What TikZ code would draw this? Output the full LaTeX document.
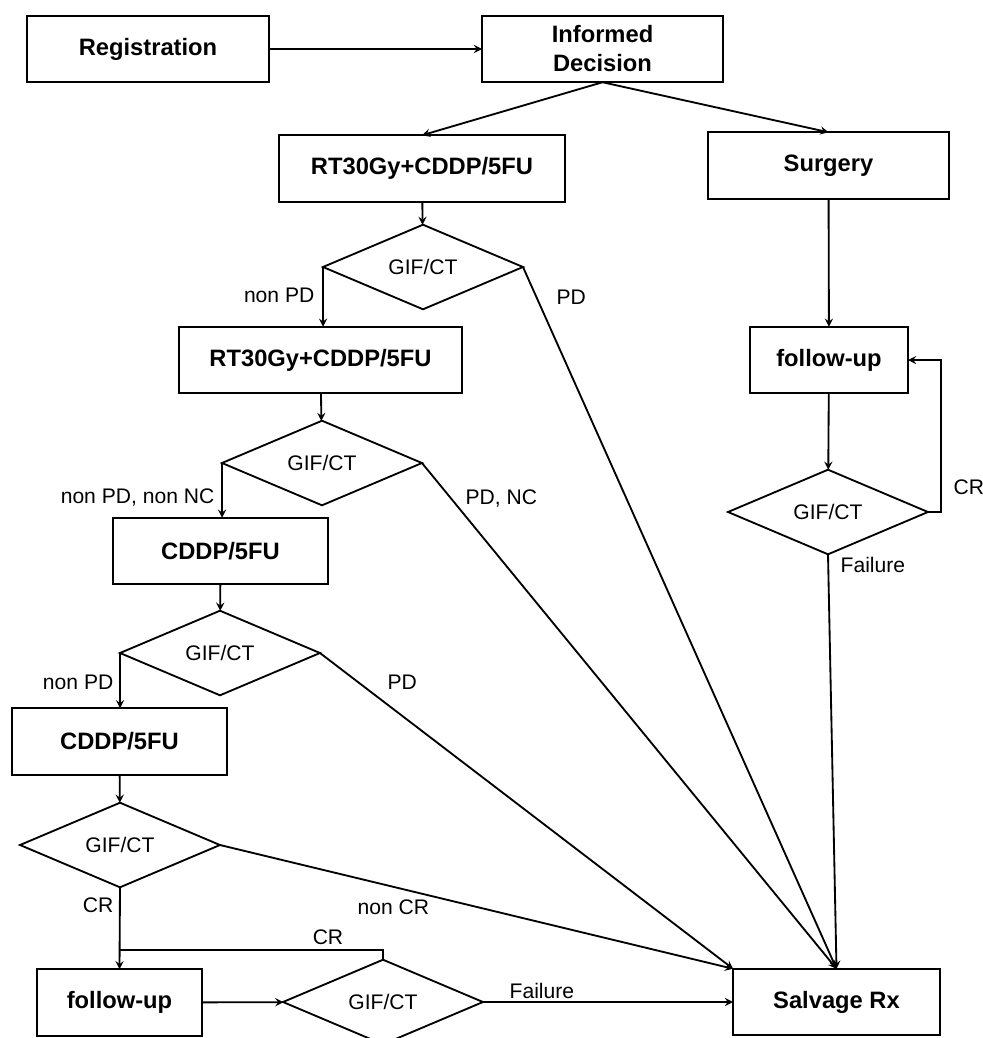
\documentclass[tikz,border=0pt]{standalone}
\usepackage{fontspec}
\setmainfont{Liberation Sans}
\usepackage{tikz}
\usetikzlibrary{shapes,arrows}

\tikzset{
  block/.style={draw, rectangle, minimum height=1.33cm, inner sep=2pt, outer sep=0pt,
    font=\fontsize{13.5}{16.5}\selectfont\bfseries, align=center},
  decision/.style={draw, diamond, minimum width=4cm, minimum height=1.64cm,
    inner sep=0pt, outer sep=0pt, font=\fontsize{12}{14}\selectfont},
  lbl/.style={font=\fontsize{12}{14}\selectfont, inner sep=1pt}
}

\begin{document}
\begin{tikzpicture}[x=0.02cm,y=-0.02cm,>=stealth,line width=1.05pt]
      \useasboundingbox (0,0) rectangle (983,1038);

      % top row
      \node[block, minimum width=4.84cm] (reg) at (148,49) {Registration};
      \node[block, minimum width=4.82cm] (inf) at (602.5,49) {Informed\\Decision};

      % left column
      \node[block, minimum width=5.72cm] (rtA) at (422,168.5) {RT30Gy+CDDP/5FU};
      \node[decision] (gifA) at (423,267) {GIF/CT};
      \node[block, minimum width=5.66cm] (rtB) at (320.5,360) {RT30Gy+CDDP/5FU};
      \node[decision] (gifB) at (322,463) {GIF/CT};
      \node[block, minimum width=4.3cm] (cdA) at (220.5,551) {CDDP/5FU};
      \node[decision] (gifC) at (220,653) {GIF/CT};
      \node[block, minimum width=4.3cm] (cdB) at (119.5,741.5) {CDDP/5FU};
      \node[decision] (gifD) at (120,845) {GIF/CT};
      \node[block, minimum width=3.3cm] (fuA) at (119.5,1002.5) {follow-up};
      \node[decision, minimum height=1.6cm] (gifE) at (383,1002) {GIF/CT};

      % right column
      \node[block, minimum width=4.82cm] (surg) at (828.5,165.5) {Surgery};
      \node[block, minimum width=3.16cm] (fuB) at (829,360) {follow-up};
      \node[decision, minimum height=1.66cm] (gifF) at (828,512) {GIF/CT};
      \node[block, minimum width=4.14cm] (salv) at (836.5,1002) {Salvage Rx};

      \coordinate (crjoin) at (120,950);

      % main flow
      \draw[->] (reg) -- (inf);
      \draw[->] (inf.south) -- (rtA.north);
      \draw[->] (inf.south) -- (surg.north);
      \draw[->] (rtA) -- (gifA);
      \draw[->] (gifA.west) -- (gifA.west |- rtB.north);
      \draw[->] (rtB) -- (gifB);
      \draw[->] (gifB.west) -- (gifB.west |- cdA.north);
      \draw[->] (cdA) -- (gifC);
      \draw[->] (gifC.west) -- (gifC.west |- cdB.north);
      \draw[->] (cdB) -- (gifD);
      \draw[->] (gifD.south) -- (fuA.north);
      \draw[->] (fuA) -- (gifE);
      \draw (gifE.north) |- (crjoin);
      \draw[->] (gifE.east) -- (salv.west);

      % surgery arm
      \draw[->] (surg) -- (fuB);
      \draw[->] (fuB) -- (gifF);
      \draw[->] (gifF.east) -- ++(13,0) |- (fuB.east);
      \draw[->] (gifF.south) -- (salv.north);

      % to salvage
      \draw[->] (gifA.east) -- (salv.north);
      \draw[->] (gifB.east) -- (salv.north);
      \draw[->] (gifC.east) -- (salv.north west);
      \draw[->] (gifD.east) -- (salv.north west);

      % branch labels
      \node[lbl, anchor=east] (lnpA) at (317,295) {non PD};
      \node[lbl, anchor=west] (lpdA) at (554,297) {PD};
      \node[lbl, anchor=east] (lnpB) at (217,497) {non PD, non NC};
      \node[lbl, anchor=west] (lpdB) at (463,498) {PD, NC};
      \node[lbl, anchor=east] (lnpC) at (116,682) {non PD};
      \node[lbl, anchor=west] (lpdC) at (385,682) {PD};
      \node[lbl, anchor=east] (lcrD) at (116,905) {CR};
      \node[lbl, anchor=west] (lncD) at (355,907) {non CR};
      \node[lbl] (lcrE) at (328,937) {CR};
      \node[lbl, anchor=west] (lfaE) at (507,991) {Failure};
      \node[lbl, anchor=west] (lcrF) at (951,487) {CR};
      \node[lbl, anchor=west] (lfaF) at (838,565) {Failure};
    \end{tikzpicture}
\end{document}
